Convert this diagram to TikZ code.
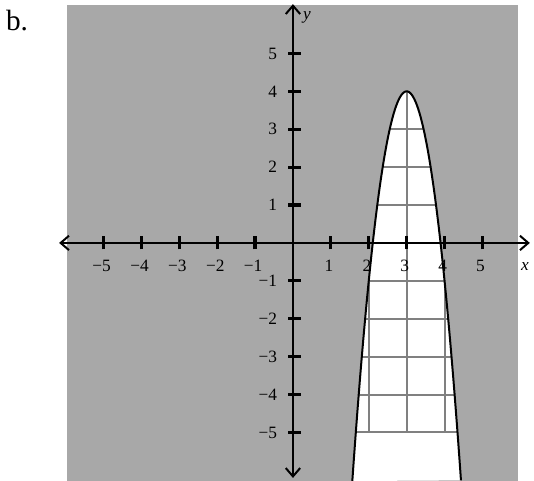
\documentclass[tikz,border=0pt]{standalone}
\usepackage{fontspec}
\setmainfont{Liberation Serif}
\usepackage{xcolor}
\usepackage{tikz}
\usetikzlibrary{arrows.meta}
\definecolor{shadeGray}{RGB}{168, 168, 168}
\definecolor{gridGray}{RGB}{128, 128, 128}

\begin{document}
\begin{tikzpicture}[font=\fontsize{13}{15}\selectfont]
    \useasboundingbox (-7.73,-6.28) rectangle (6.36,6.41);
    % Shaded region
    \fill[shadeGray] (-5.96,-6.28) rectangle (5.94,6.29);
    \fill[white] plot[domain=1.566:4.434, samples=90] (\x, {4-5*(\x-3)^2}) -- cycle;
    % Grid inside the parabola
    \begin{scope}
      \clip plot[domain=1.566:4.434, samples=90] (\x, {4-5*(\x-3)^2}) -- cycle;
      \draw[gridGray, line width=1.5pt] (-5,-5) grid (5,5);
    \end{scope}
    % Parabola
    \draw[line width=1.5pt, line join=round] plot[domain=1.566:4.434, samples=90, smooth] (\x, {4-5*(\x-3)^2});
    % Axes
    \draw[line width=1.5pt, {Straight Barb[length=2.2mm, width=3.8mm]}-{Straight Barb[length=2.2mm, width=3.8mm]}] (-6.17,0) -- (6.25,0);
    \draw[line width=1.5pt, {Straight Barb[length=2.2mm, width=3.8mm]}-{Straight Barb[length=2.2mm, width=3.8mm]}] (0,-6.2) -- (0,6.3);
    \foreach \x/\lbl in {-5/−5, -4/−4, -3/−3, -2/−2, -1/−1, 1/1, 2/2, 3/3, 4/4, 5/5}
      \draw[line width=2.4pt] (\x,-0.17) -- (\x,0.17) node (xt\x) at (\x-0.05,-0.6) {\lbl};
    \foreach \y/\lbl in {-5/−5, -4/−4, -3/−3, -2/−2, -1/−1, 1/1, 2/2, 3/3, 4/4, 5/5}
      \draw[line width=2.4pt] (-0.12,\y) -- (0.22,\y) node[anchor=east, inner sep=0pt] (yt\y) at (-0.38,\y) {\lbl};
    \node (xlabel) at (6.12,-0.63) {\textit{x}};
    \node (ylabel) at (0.37,5.96) {\textit{y}};
    % Part label
    \node[font=\fontsize{22}{26}\selectfont] (partB) at (-7.28,5.86) {b.};
\end{tikzpicture}
\end{document}
